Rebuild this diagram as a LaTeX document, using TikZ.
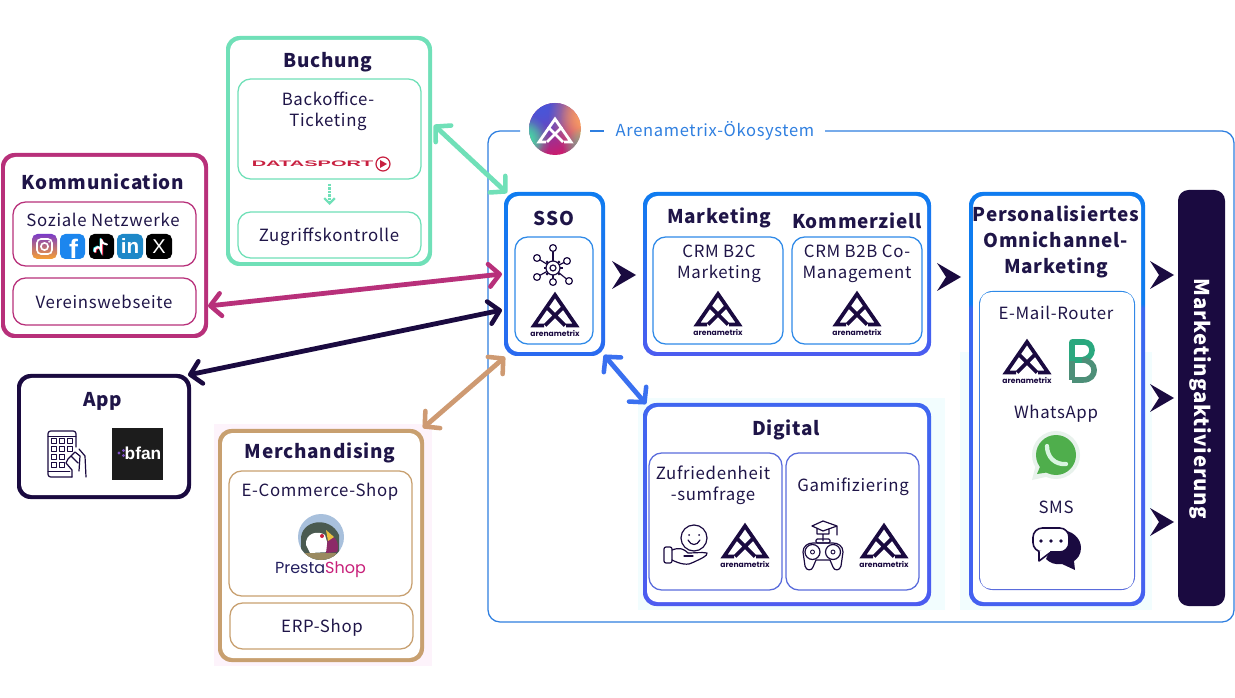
\documentclass[tikz,border=0pt]{standalone}
\usepackage{fontspec}
\setmainfont{Noto Sans CJK JP}[LetterSpace=4]
\newfontfamily\logofont{Poppins}
\newfontfamily\arialfont{Liberation Sans}
\usetikzlibrary{arrows.meta,fadings,calc}
\definecolor{navy}{HTML}{1A0A40}
\definecolor{ink}{HTML}{1F1548}
\definecolor{mint}{HTML}{70E0B8}
\definecolor{berry}{HTML}{B8307A}
\definecolor{tan}{HTML}{C8A070}
\definecolor{peach}{HTML}{E08A72}
\definecolor{azure}{HTML}{0F7CF0}
\definecolor{violet}{HTML}{4C5CF0}
\definecolor{perslow}{HTML}{3A68F0}
\definecolor{ecoblue}{HTML}{2F7FE0}
\definecolor{cellblue}{HTML}{2F8AE8}
\definecolor{cellviolet}{HTML}{5A6CDC}
\definecolor{magent}{HTML}{C81E70}
\definecolor{dsred}{HTML}{C82040}
\definecolor{igtop}{HTML}{7A3BC8}
\definecolor{igmid}{HTML}{D8307A}
\definecolor{igbot}{HTML}{F8A030}
\definecolor{fbblue}{HTML}{1C86EE}
\definecolor{ttcyan}{HTML}{25E0E8}
\definecolor{ttred}{HTML}{FE2C55}
\definecolor{liblue}{HTML}{1E88C8}
\definecolor{bfanbg}{HTML}{1C1C1C}
\definecolor{bfandot}{HTML}{7B4FC0}
\definecolor{psring}{HTML}{A8C0DC}
\definecolor{pshead}{HTML}{4A5A50}
\definecolor{psfeather}{HTML}{8C2A68}
\definecolor{psbeak}{HTML}{E8C040}
\definecolor{psbase}{HTML}{9A8A60}
\definecolor{psnavy}{HTML}{252060}
\definecolor{psshop}{HTML}{C8207A}
\definecolor{ssobot}{HTML}{2A6AF0}
\definecolor{digtop}{HTML}{3F66F0}
\definecolor{brgreen}{HTML}{2AA87E}
\definecolor{brgrey}{HTML}{4D8F78}
\definecolor{waedge}{HTML}{E8F2EC}
\definecolor{wagreen}{HTML}{4FAE4C}
\definecolor{waphone}{HTML}{D8F5E0}
\definecolor{tanarrow}{HTML}{CE9A72}
\definecolor{bluearrow}{HTML}{3A70F0}
\definecolor{tintpink}{HTML}{FDF3FB}
\definecolor{tintcyan}{HTML}{F2FDFE}
\definecolor{ecoblob}{HTML}{4A55D8}
\definecolor{ecoor}{HTML}{FFA860}
\definecolor{ecoteal}{HTML}{40E0A8}
\pgfdeclareverticalshading{merchring}{100bp}{color(0bp)=(peach); color(4bp)=(tan); color(96bp)=(tan); color(100bp)=(peach)}
\pgfdeclareverticalshading{persring}{100bp}{color(0bp)=(violet); color(61bp)=(perslow); color(61.5bp)=(azure); color(100bp)=(azure)}
\tikzfading[name=blob,inner color=transparent!0,outer color=transparent!100]
\tikzset{
  txt/.style={text=ink,align=center,inner sep=0pt,yshift=-1.3pt,font=\fontsize{12.6pt}{15.75pt}\selectfont},
  ttl/.style={text=ink,align=center,inner sep=0pt,yshift=-1.3pt,font=\fontsize{14.2pt}{18.75pt}\selectfont\bfseries},
  logotext/.style={text=navy,inner sep=0pt,font=\logofont\fontsize{5.7pt}{6pt}\selectfont\bfseries},
  dbl/.style={line width=3.6pt,{Straight Barb[round,length=8pt,width=17pt,line width=3.4pt]}-{Straight Barb[round,length=8pt,width=17pt,line width=3.4pt]}},
  cellbox/.style={draw=#1,line width=.95pt,fill=white,rounded corners=9.5pt},
  icon/.style={line width=.9pt,draw=navy,line join=round,line cap=round},
  chev/.pic={\fill[navy] (-12,-14)--(12,0)--(-12,14)--(-3,0)--cycle;}
}
% style, name, x1,y1,x2,y2
\newcommand{\panel}[6]{%
  \pgfmathsetmacro\pw{(#5-#3)*.75}\pgfmathsetmacro\ph{(#6-#4)*.75}%
  \node[#1,minimum width=\pw pt,minimum height=\ph pt,anchor=north west,inner sep=0pt,outer sep=0pt] (#2) at (#3,#4) {};}
% name, x1,y1,x2,y2, shade keys, width
\newcommand{\ring}[7]{%
  \panel{#6,rounded corners=10pt}{#1}{#2}{#3}{#4}{#5}%
  \pgfmathsetmacro\ax{#2+#7}\pgfmathsetmacro\ay{#3+#7}\pgfmathsetmacro\bx{#4-#7}\pgfmathsetmacro\by{#5-#7}%
  \panel{fill=white,rounded corners=8pt}{#1in}{\ax}{\ay}{\bx}{\by}}
\newcommand{\amlogo}[3]{%
  \begin{scope}[shift={(#2,#3)}]
    \draw[navy,line width=2.8pt,miter limit=10] (-11,33.5)--(-21,33.5)--(0,3)--(21,33.5)--(11,33.5);
    \draw[navy,line width=2.8pt] (-8.5,15)--(10,33.5) (8.5,15)--(-10,33.5);
    \node[logotext] (#1) at (0,41) {arenametrix};
  \end{scope}}
\begin{document}
\begin{tikzpicture}[x=.75pt,y=-.75pt]
\useasboundingbox (0,0) rectangle (1235,698);
\fill[white] (0,0) rectangle (1235,698);
% compression tints
\fill[tintpink] (214,424) rectangle (432,666);
\fill[tintcyan] (960,352) rectangle (1152,610);
\fill[tintcyan] (638,398) rectangle (945,610);

% ecosystem frame
\draw[ecoblue,line width=.95pt,rounded corners=9pt] (520,131)--(488,131)--(488,622)--(1234,622)--(1234,131)--(825,131);
\draw[ecoblue,line width=.95pt] (590,131)--(604,131);
\node[anchor=center,text=ecoblue,inner sep=0pt,font=\fontsize{12.4pt}{15pt}\selectfont] (ecolabel) at (715,130.5) {Arenametrix-Ökosystem};
% ecosystem logo
\begin{scope}
  \clip (555,129) circle[radius=26];
  \fill[magent] (529,103) rectangle (581,155);
  \fill[ecoblob,path fading=blob] (541,108) circle[radius=48];
  \fill[ecoblob,path fading=blob] (541,108) circle[radius=34];
  \fill[ecoor,path fading=blob] (590,116) circle[radius=42];
  \fill[ecoor,path fading=blob] (590,116) circle[radius=30];
  \fill[ecoteal,path fading=blob] (524,140) circle[radius=26];
  \fill[ecoteal,path fading=blob] (524,140) circle[radius=20];
  \fill[ecoteal,path fading=blob] (586,150) circle[radius=24];
\end{scope}
\draw[white,line width=2.1pt,miter limit=10] (546,142)--(539,142)--(555,119)--(571,142)--(564,142);
\draw[white,line width=2.1pt] (548,127)--(563,142) (562,127)--(547,142);

% Buchung
\ring{buchung}{226}{36}{432}{266}{top color=mint,bottom color=mint}{4}
\panel{cellbox=mint}{backoffice}{238}{79}{421}{179}
\panel{cellbox=mint}{zugriff}{238}{212}{421}{258}
\node[ttl] (tbuchung) at (328,60) {Buchung};
\node[txt] (tback) at (328,109.5) {Backoffice-\\Ticketing};
\node[txt] (tzug) at (329,235) {Zugriffskontrolle};
\node[text=dsred,inner sep=0pt,xscale=2.5,font=\arialfont\fontsize{6pt}{6pt}\selectfont\bfseries] (datasport) at (312.5,164) {DATASPORT};
\draw[dsred,line width=.9pt] (383,164) circle[radius=7];
\fill[dsred] (380,160)--(387,164)--(380,168)--cycle;
\draw[mint,line width=1.6pt,densely dotted,-{Straight Barb[length=4pt,width=8pt]}] ([shift={(0,5)}]backoffice.south) -- ([shift={(0,-7)}]zugriff.north);

% Kommunication
\ring{komm}{1}{153}{208}{338}{top color=berry,bottom color=berry}{4}
\panel{cellbox=berry}{sozial}{13}{202}{196}{266}
\panel{cellbox=berry}{verein}{13}{278}{196}{325}
\node[ttl] (tkomm) at (103,180) {Kommunication};
\node[txt] (tsoz) at (103,218) {Soziale Netzwerke};
\node[txt] (tver) at (104,300.5) {Vereinswebseite};
% social icons
\shade[rounded corners=4pt,top color=igtop,middle color=igmid,bottom color=igbot] (32,234) rectangle (57,259);
\draw[white,line width=1.2pt,rounded corners=3pt] (37,239) rectangle (52,254);
\draw[white,line width=1.2pt] (44.5,246.5) circle[radius=3.6];
\fill[white] (49.2,241.8) circle[radius=1];
\fill[fbblue,rounded corners=4pt] (60,234) rectangle (85,259);
\node[text=white,inner sep=0pt,font=\arialfont\fontsize{20pt}{20pt}\selectfont\bfseries,anchor=base] (ffb) at (73.5,259) {f};
\fill[black,rounded corners=4pt] (89,234) rectangle (114,259);
\begin{scope}[line width=1.5pt,line cap=round]
  \draw[ttcyan] (100.5,239) -- (100.5,250) arc[start angle=0,end angle=-200,radius=3.3];
  \draw[ttred] (102,240) -- (102,251) arc[start angle=0,end angle=-200,radius=3.3];
  \draw[white] (101.2,239.5) -- (101.2,250.5) arc[start angle=0,end angle=-200,radius=3.3] (101.2,240) .. controls (102,243) and (104,244) .. (107,244.5);
\end{scope}
\fill[liblue,rounded corners=4pt] (117,234) rectangle (143,259);
\node[text=white,inner sep=0pt,font=\arialfont\fontsize{15.5pt}{16pt}\selectfont\bfseries] (lin) at (130,246) {in};
\fill[black,rounded corners=4pt] (146,234) rectangle (172,259);
\node[text=white,inner sep=0pt,font=\arialfont\fontsize{15pt}{16pt}\selectfont] (xx) at (159,246.5) {X};

% App
\ring{app}{17}{374}{191}{499}{top color=navy,bottom color=navy}{4}
\node[ttl] (tapp) at (103,400) {App};
\draw[icon,rounded corners=2pt] (76,447)--(76,431)--(48,431)--(48,477)--(72,477);
\draw[icon,line width=.7pt] (48,436)--(76,436) (48,471)--(70,471);
\foreach \cx in {54,62,70}{\foreach \cy in {441,449}{\draw[icon,line width=.7pt] (\cx-3,\cy-2.5) rectangle (\cx+2,\cy+2.5);}}
\foreach \cx in {54,62}{\foreach \cy in {457}{\draw[icon,line width=.7pt] (\cx-3,\cy-2.5) rectangle (\cx+2,\cy+2.5);}}
\foreach \cx in {54,62}{\draw[icon,line width=.7pt] (\cx-3,462.5) rectangle (\cx+2,467.5);}
\draw[icon] (79,449)--(85,456)--(86,477) (79,471)--(80,456)--(75,452)--(68,459)--(66,463)--(72,470)--(72,477) (71,456)--(78,463);
\fill[bfanbg] (112,428) rectangle (163,480);
\node[text=white,inner sep=0pt,font=\arialfont\fontsize{13pt}{14pt}\selectfont\bfseries] (bfan) at (143,453) {bfan};
\fill[bfandot] (119,453) circle[radius=1.6] (123.5,450.5) circle[radius=1.6] (123.5,455.5) circle[radius=1.6];

% Merchandising
\ring{merch}{218}{429}{424}{662}{shade,shading=merchring}{4}
\panel{cellbox=tan}{ecom}{229}{471}{412}{596}
\panel{cellbox=tan}{erp}{230}{603}{413}{649}
\node[ttl] (tmerch) at (320,451) {Merchandising};
\node[txt] (tecom) at (320,490) {E-Commerce-Shop};
\node[txt] (terp) at (322,626) {ERP-Shop};
\begin{scope}
  \clip (321,537) circle[radius=23];
  \fill[psring] (298,514) rectangle (344,560);
  \fill[pshead] (301,540) .. controls (300,520) and (330,515) .. (339,535) -- (339,560) -- (301,560) -- cycle;
  \fill[white] (306,545) .. controls (305,533) and (318,530) .. (325,535) -- (330,552) -- (310,553) -- cycle;
  \fill[psfeather] (328,537) .. controls (336,534) and (340,545) .. (337,552) -- (326,553) -- cycle;
  \fill[psbeak] (326,530) -- (334,537) -- (328,541) -- cycle;
  \fill[psbase] (304,553) rectangle (336,560);
  \fill[dsred] (322,536) circle[radius=2];
\end{scope}
\node[inner sep=0pt,text=psnavy,font=\logofont\fontsize{12pt}{14pt}\selectfont] (presta) at (320.5,570) {Presta\textcolor{psshop}{Shop}};

% SSO
\ring{sso}{504}{192}{605}{356}{top color=azure,bottom color=ssobot}{4}
\panel{cellbox=cellblue}{ssocell}{515}{237}{593}{344}
\node[ttl] (tsso) at (554,217) {SSO};
\foreach \px/\py in {553/248,537/258,567/261,537/277,569/281,553/282}{
  \draw[icon] (553,268)--(\px,\py);
  \draw[icon,fill=white] (\px,\py) circle[radius=3.4];}
\foreach \a in {0,45,...,315}{\draw[navy,line width=1.6pt] (553,268)++(\a:6)--++(\a:3.5);}
\draw[icon,fill=white] (553,268) circle[radius=7];
\draw[icon] (553,268) circle[radius=3];
\amlogo{logosso}{555}{292}

% Marketing / Kommerziell
\ring{mkt}{643}{192}{931}{356}{top color=azure,bottom color=violet}{4}
\panel{cellbox=cellblue}{b2c}{653}{237}{783}{344}
\panel{cellbox=cellblue}{b2b}{792}{237}{922}{344}
\node[ttl] (tmkt) at (719,216) {Marketing};
\node[ttl] (tkom) at (857,219) {Kommerziell};
\node[txt] (tb2c) at (719,262.5) {CRM B2C\\Marketing};
\node[txt] (tb2b) at (857,262) {CRM B2B Co-\\Management};
\amlogo{logob2c}{718}{291}
\amlogo{logob2b}{857}{291}

% Digital
\ring{digi}{643}{403}{931}{606}{top color=digtop,bottom color=violet}{4}
\panel{cellbox=cellviolet}{zuf}{649}{453}{782}{590}
\panel{cellbox=cellviolet}{gam}{786}{453}{919}{590}
\node[ttl] (tdigi) at (786,428) {Digital};
\node[txt] (tzuf) at (713,484) {Zufriedenheit\\-sumfrage};
\node[txt] (tgam) at (853,485) {Gamifiziering};
\amlogo{logozuf}{745}{523}
\amlogo{logogam}{884}{523}
% smile + hand
\draw[icon] (694,538) circle[radius=13];
\fill[navy] (689,535) circle[radius=1] (699,535) circle[radius=1];
\draw[icon] (688,540) .. controls (691,546) and (697,546) .. (700,540);
\draw[icon,rounded corners=1.5pt] (664,547) rectangle (672,563);
\draw[icon] (672,550) .. controls (680,547) and (684,549) .. (688,553) .. controls (695,553) and (702,552) .. (707,553) .. controls (708,556) and (700,559) .. (694,562) .. controls (688,566) and (680,564) .. (672,560);
\draw[icon] (684,556)--(693,556);
% gamepad + cap
\draw[icon] (812,526)--(823,521)--(837,526)--(823,531)--cycle (817,529)--(817,534)--(829,534)--(829,529) (837,526)--(837,535) (823,534)--(823,541);
\draw[icon] (803,552) .. controls (803,546) and (808,543) .. (813,543) -- (833,543) .. controls (838,543) and (843,546) .. (843,552) -- (841,566) .. controls (840,571) and (834,571) .. (833,567) -- (830,560) -- (816,560) -- (813,567) .. controls (812,571) and (806,571) .. (805,566) -- cycle;
\draw[icon,rounded corners=1pt] (816,539) rectangle (830,543);
\draw[icon] (812.5,552) circle[radius=7.5] (833,552) circle[radius=7.5];
\draw[icon,line width=.7pt] (812.5,552) circle[radius=2] (833,552) circle[radius=2];

% Personalisiertes
\ring{pers}{969}{192}{1145}{606}{shade,shading=persring}{4}
\ring{perscell}{979}{291}{1135}{590}{top color=cellblue,bottom color=cellviolet}{1.2}
\node[ttl] (tpers) at (1056,240) {Personalisiertes\\[.5pt]Omnichannel-\\[.5pt]Marketing};
\node[txt] (tmail) at (1056,311.5) {E-Mail-Router};
\node[txt] (twa) at (1056,412) {WhatsApp};
\node[txt] (tsms) at (1056,506) {SMS};
\amlogo{logomail}{1027}{339}
% Brevo B
\draw[brgreen,line width=4.2pt,line join=round] (1072,380)--(1072,342)--(1084,342) .. controls (1094,342) and (1096,358) .. (1082,360) -- (1072,360);
\draw[brgrey,line width=4.2pt] (1072,380)--(1083,380) .. controls (1098,380) and (1098,360) .. (1082,360);
\draw[brgrey,line width=4.2pt] (1072,361)--(1072,380);
% WhatsApp
\fill[waedge] (1056,455) circle[radius=24];
\fill[waedge] (1032,480)--(1036,464)--(1050,476)--cycle;
\fill[wagreen] (1056,455) circle[radius=20];
\fill[wagreen] (1037,474)--(1042,462)--(1050,472)--cycle;
\draw[waphone,line width=3.2pt,line cap=round] (1047,446) .. controls (1047,457) and (1055,465) .. (1066,464);
% SMS
\fill[navy] (1060,530) .. controls (1072,530) and (1081,538) .. (1081,548) .. controls (1081,555) and (1077,559) .. (1074,561) -- (1075,570) -- (1062,564) .. controls (1055,565) and (1050,563) .. (1046,559) -- cycle;
\draw[navy,line width=1.2pt,fill=white,rounded corners=7pt] (1033,528) rectangle (1069,552);
\draw[navy,line width=1.2pt,fill=white,line join=round] (1039,551.5)--(1039,561)--(1051,552);
\draw[white,line width=1.3pt] (1039.8,551.5)--(1050,551.5);
\fill[navy] (1041,541) circle[radius=1.8] (1051,541) circle[radius=1.8] (1061,541) circle[radius=1.8];

% activation bar
\panel{fill=navy,rounded corners=8pt}{bar}{1178}{190}{1225}{606}
\node[text=white,inner sep=0pt,rotate=-90,font=\fontsize{15.3pt}{18pt}\selectfont\bfseries] (tbar) at (1201,399) {Marketingaktivierung};

% chevrons
\pic at (624,275) {chev};
\pic at (949,277) {chev};
\pic at (1162,275) {chev};
\pic at (1162,398) {chev};
\pic at (1162,522) {chev};

% connectors
\draw[dbl,mint] ([shift={(2,-26)}]buchung.east) -- ([shift={(3,1)}]sso.north west);
\draw[dbl,berry] ([shift={(0,60.5)}]komm.east) -- ([shift={(-2,0)}]sso.west);
\draw[dbl,navy] ([shift={(-3,1)}]app.north east) -- ([shift={(-2,36)}]sso.west);
\draw[dbl,tanarrow] ([shift={(-1,-1)}]merch.north east) -- ([shift={(1,1)}]sso.south west);
\draw[dbl,bluearrow] ([shift={(-1,-1)}]sso.south east) -- ([shift={(3,1)}]digi.north west);
\end{tikzpicture}
\end{document}
